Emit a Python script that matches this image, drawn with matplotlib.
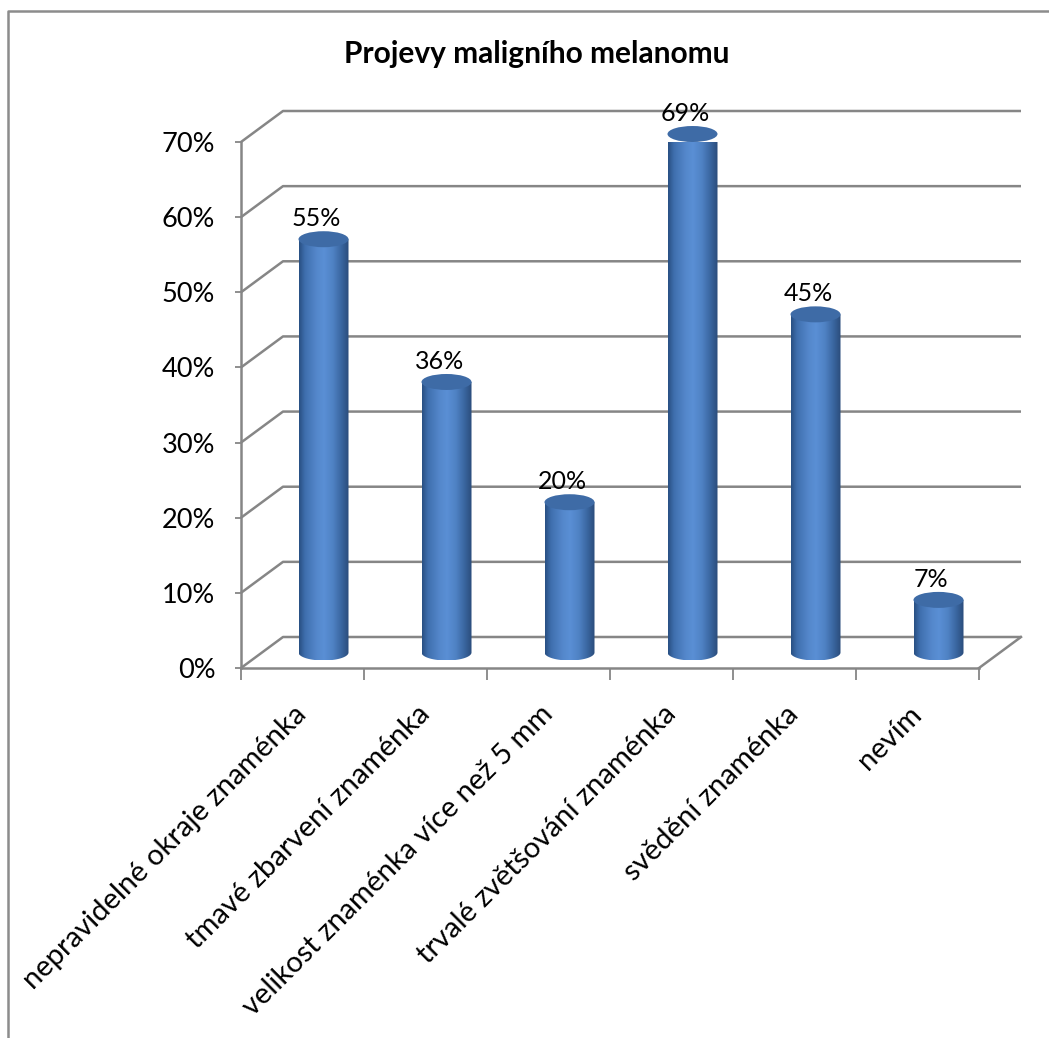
import matplotlib
matplotlib.use("Agg")
import matplotlib.pyplot as plt
import numpy as np
from matplotlib.colors import LinearSegmentedColormap
from matplotlib.patches import Ellipse, PathPatch
from matplotlib.path import Path
from matplotlib.ticker import FixedLocator, NullFormatter, FuncFormatter

categories = [
    "nepravidelné okraje znaménka",
    "tmavé zbarvení znaménka",
    "velikost znaménka více než 5 mm",
    "trvalé zvětšování znaménka",
    "svědění znaménka",
    "nevím",
]
values = [55, 36, 20, 69, 45, 7]
y_ticks = [0, 10, 20, 30, 40, 50, 60, 70]
title = "Projevy maligního melanomu"

FONT = ["Lato", "DejaVu Sans"]
GRID = "#868686"

W, H = 1049, 1038
fig = plt.figure(figsize=(W / 100, H / 100), dpi=100)
fig.patch.set_facecolor("white")

# front plane of the 3-D box, in pixels
left, right, bottom, top = 241, 979, 668, 142
ax = fig.add_axes([left / W, (H - bottom) / H, (right - left) / W, (bottom - top) / H])
ax.set_facecolor("none")

n = len(categories)
px_x = (right - left) / n            # pixels per category
px_y = (bottom - top) / 70.0         # pixels per percent
DX = 42 / px_x                        # depth offset in data units
DY = 31 / px_y

# side wall diagonals + back wall gridlines
for v in y_ticks:
    ax.plot([0, DX, n + DX], [v, v + DY, v + DY], color=GRID, lw=1.8,
            clip_on=False, zorder=1, solid_capstyle="butt")
# floor right edge
ax.plot([n, n + DX], [0, DY], color=GRID, lw=1.8, clip_on=False, zorder=1)

# cylinders
cmap = LinearSegmentedColormap.from_list(
    "cyl",
    [(0.0, "#284f82"), (0.12, "#3f6fae"), (0.35, "#5487cb"), (0.5, "#5a8fd5"),
     (0.68, "#4f82c4"), (0.85, "#3a66a0"), (1.0, "#2a4c7a")],
)
grad = np.linspace(0, 1, 256).reshape(1, -1)
r = 25 / px_x
e = 8.0 / px_y
t = np.linspace(0, -np.pi, 60)
for i, v in enumerate(values):
    cx = i + 0.5 + DX / 2
    yb = DY / 2
    yt = v + DY / 2
    verts = [(cx - r, yb), (cx - r, yt), (cx + r, yt)]
    verts += list(zip(cx + r * np.cos(t), yb + e * np.sin(t)))
    verts.append((cx - r, yb))
    codes = [Path.MOVETO] + [Path.LINETO] * (len(verts) - 2) + [Path.CLOSEPOLY]
    body = PathPatch(Path(verts, codes), facecolor="none", edgecolor="none",
                     transform=ax.transData)
    ax.add_patch(body)
    body.set_clip_on(False)
    im = ax.imshow(grad, cmap=cmap, aspect="auto", interpolation="bilinear",
                   extent=[cx - r, cx + r, yb - e, yt], zorder=3)
    im.set_clip_path(body)
    ax.add_patch(Ellipse((cx, yt), 2 * r, 2 * e, facecolor="#3e6ba6",
                         edgecolor="none", zorder=4, clip_on=False))
    ax.text(cx - 0.06, yt + 2.75, f"{v}%", ha="center", va="center",
            fontsize=18, family=FONT, color="black", zorder=5)

ax.set_xlim(0, n)
ax.set_ylim(0, 70)

for s in ["top", "right"]:
    ax.spines[s].set_visible(False)
for s in ["left", "bottom"]:
    ax.spines[s].set_color(GRID)
    ax.spines[s].set_linewidth(1.8)

ax.yaxis.set_major_locator(FixedLocator(y_ticks))
ax.yaxis.set_major_formatter(FuncFormatter(lambda v, p: f"{v:.0f}%"))
ax.tick_params(axis="y", direction="out", length=4.5, width=1.3, color=GRID,
               labelsize=19.5, pad=14)
for lab in ax.get_yticklabels():
    lab.set_family(FONT)

ax.xaxis.set_major_locator(FixedLocator(np.arange(n + 1)))
ax.xaxis.set_major_formatter(NullFormatter())
ax.tick_params(axis="x", direction="out", length=8.5, width=1.3, color=GRID)

for i, name in enumerate(categories):
    ax.text(i + 0.5, -5.6, name, rotation=45, rotation_mode="anchor",
            ha="right", va="center", fontsize=21, family=FONT,
            clip_on=False)

fig.text(537 / W, 1 - 54 / H, title, ha="center", va="center",
         fontsize=21.5, fontweight="bold", family=FONT)

# chart area frame
fig.add_artist(plt.Line2D([7.5 / W, 7.5 / W, 1.0], [0.0, 1 - 10.5 / H, 1 - 10.5 / H],
                          transform=fig.transFigure, color="#8c8c8c", lw=1.8))

fig.savefig("out.png", dpi=100, facecolor="white")
